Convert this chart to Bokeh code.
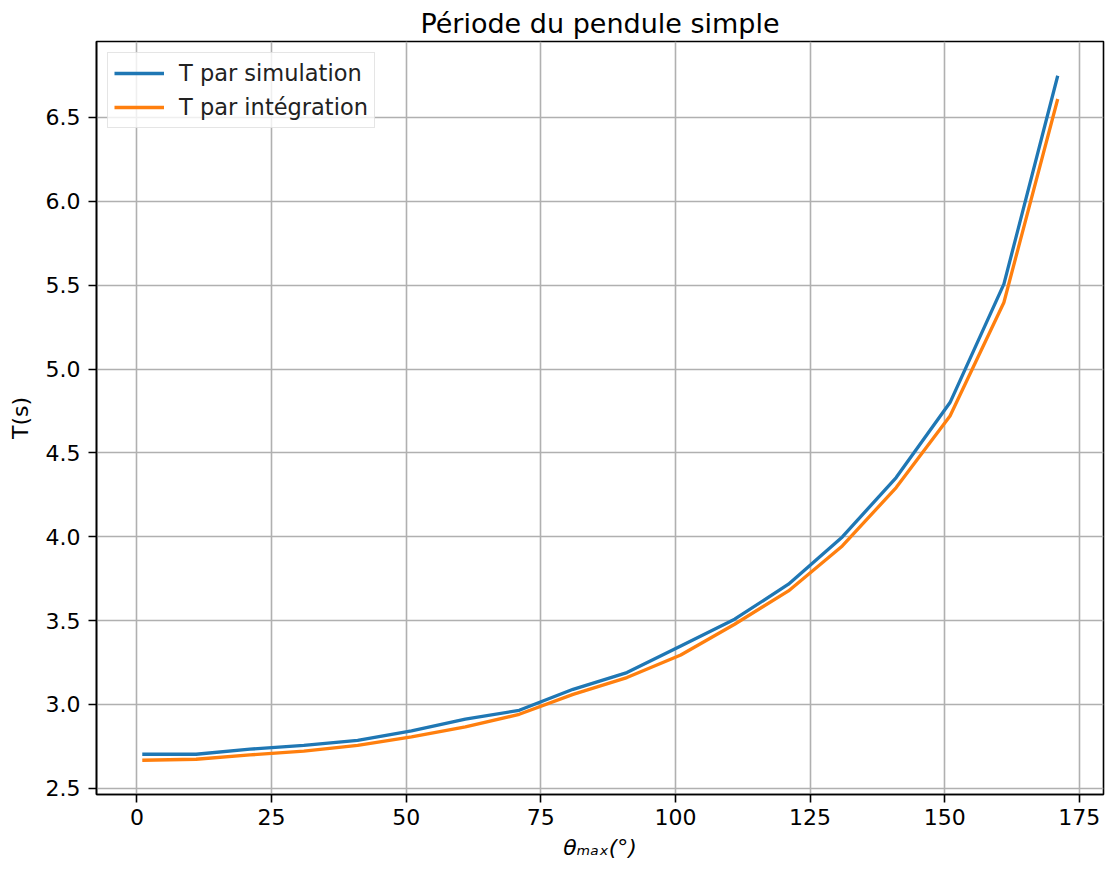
from bokeh.plotting import figure
from bokeh.models import Range1d, FixedTicker, Legend, LegendItem, NumeralTickFormatter
from bokeh.embed import file_html
from bokeh.resources import INLINE

theta_max = [1, 11, 21, 31, 41, 51, 61, 71, 81, 91, 101, 111, 121, 131, 141, 151, 161, 171]
T_simulation = [2.703, 2.703, 2.733, 2.756, 2.786, 2.842, 2.912, 2.965, 3.090, 3.190,
                 3.349, 3.508, 3.717, 3.999, 4.353, 4.800, 5.506, 6.749]
T_integration = [2.667, 2.673, 2.699, 2.722, 2.756, 2.806, 2.866, 2.941, 3.060, 3.160,
                 3.295, 3.478, 3.677, 3.945, 4.293, 4.720, 5.397, 6.610]
x_ticks = [0, 25, 50, 75, 100, 125, 150, 175]
y_ticks = [2.5, 3.0, 3.5, 4.0, 4.5, 5.0, 5.5, 6.0, 6.5]

FONT = "DejaVu Sans"

xmin, xmax = min(theta_max), max(theta_max)
xm = 0.05 * (xmax - xmin)
allT = T_simulation + T_integration
ymin, ymax = min(allT), max(allT)
ym = 0.05 * (ymax - ymin)

p = figure(width=1107, height=870, output_backend="svg", toolbar_location=None,
           x_range=Range1d(xmin - xm, xmax + xm), y_range=Range1d(ymin - ym, ymax + ym),
           title="Période du pendule simple",
           min_border_left=96, min_border_right=4, min_border_top=41, min_border_bottom=76)

p.title.align = "center"
p.title.text_font = FONT
p.title.text_font_size = "27px"
p.title.text_font_style = "normal"
p.title.text_color = "black"
p.title.standoff = 5

p.outline_line_color = "black"
p.outline_line_width = 1.6
p.outline_line_alpha = 1.0
p.background_fill_color = "white"
p.border_fill_color = "white"

for ax in (p.xaxis[0], p.yaxis[0]):
    ax.axis_line_color = "black"
    ax.axis_line_width = 1.6
    ax.major_tick_line_color = "black"
    ax.major_tick_line_width = 1.6
    ax.major_tick_out = 8
    ax.major_tick_in = 0
    ax.minor_tick_line_color = None
    ax.major_label_text_font = FONT
    ax.major_label_text_font_size = "22px"
    ax.major_label_text_color = "black"
    ax.axis_label_text_font = FONT
    ax.axis_label_text_font_size = "22px"
    ax.axis_label_text_color = "black"

p.xaxis.ticker = FixedTicker(ticks=x_ticks)
p.yaxis.ticker = FixedTicker(ticks=y_ticks)
p.yaxis.formatter = NumeralTickFormatter(format="0.0")
p.xaxis.major_label_standoff = 6
p.yaxis.major_label_standoff = 8
p.xaxis.axis_label = "θₘₐₓ(°)"
p.xaxis.axis_label_text_font_style = "italic"
p.xaxis.axis_label_standoff = 7
p.yaxis.axis_label = "T(s)"
p.yaxis.axis_label_text_font_style = "normal"
p.yaxis.axis_label_standoff = 10

p.xgrid.ticker = FixedTicker(ticks=x_ticks)
p.ygrid.ticker = FixedTicker(ticks=y_ticks)
for g in (p.xgrid[0], p.ygrid[0]):
    g.grid_line_color = "#b0b0b0"
    g.grid_line_width = 1.6

r1 = p.line(theta_max, T_simulation, line_color="#1f77b4", line_width=3.3)
r2 = p.line(theta_max, T_integration, line_color="#ff7f0e", line_width=3.3)

legend = Legend(items=[LegendItem(label="T par simulation", renderers=[r1]),
                       LegendItem(label="T par intégration", renderers=[r2])],
                location="top_left")
legend.margin = 11
legend.padding = 6
legend.spacing = 6
legend.glyph_width = 50
legend.glyph_height = 28
legend.label_height = 28
legend.label_standoff = 15
legend.label_text_font = FONT
legend.label_text_font_size = "22.5px"
legend.label_text_color = "#222222"
legend.border_line_color = "#cccccc"
legend.border_line_width = 1.5
legend.background_fill_color = "white"
legend.background_fill_alpha = 0.8
p.add_layout(legend)

open("out.html", "w").write(file_html(p, INLINE))
